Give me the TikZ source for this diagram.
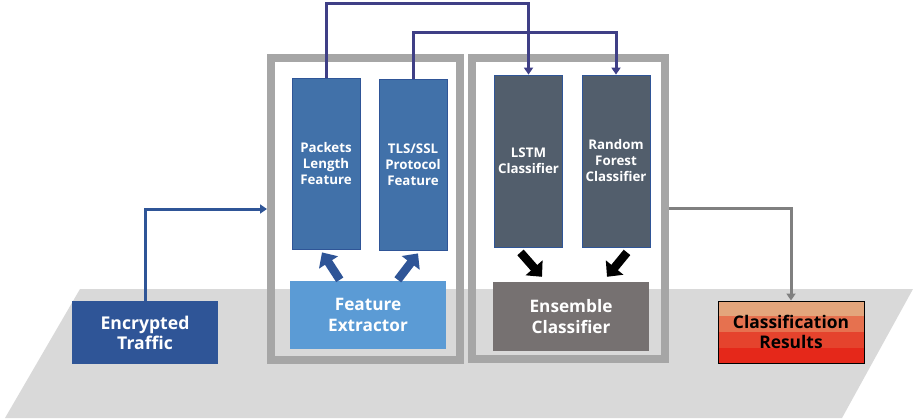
\documentclass[tikz,border=0pt]{standalone}
\usepackage{fontspec}
\setmainfont{Open Sans}
\usetikzlibrary{arrows.meta,calc}
\definecolor{navy}{HTML}{2F5597}
\definecolor{featblue}{HTML}{4171A9}
\definecolor{slate}{HTML}{525E6C}
\definecolor{lightblue}{HTML}{5B9BD5}
\definecolor{ensgrey}{HTML}{767171}
\definecolor{framegrey}{HTML}{A6A6A6}
\definecolor{floor}{HTML}{D9D9D9}
\definecolor{indigo}{HTML}{3F3F86}
\definecolor{outgrey}{HTML}{808080}
\definecolor{bandA}{HTML}{E3A57C}
\definecolor{bandB}{HTML}{E6714F}
\definecolor{bandC}{HTML}{E5432D}
\definecolor{bandD}{HTML}{E5281A}
\begin{document}
\begin{tikzpicture}[x=1pt,y=-1pt,
  txt/.style={text=white,font=\bfseries,align=center},
  tallbox/.style={txt,draw=navy,line width=0.8pt,minimum width=68pt,minimum height=171pt,
    inner sep=0pt,font=\bfseries\fontsize{13.3}{16}\selectfont},
  widebox/.style={txt,minimum width=156pt,minimum height=68pt,inner sep=0pt,
    font=\bfseries\fontsize{17.2}{21}\selectfont},
  frame/.style={draw=framegrey,line width=8pt,inner sep=0pt},
  link/.style={draw=indigo,line width=3pt,-{Triangle[width=9pt,length=7pt]}},
  fat/.style={line width=8.5pt,-{Triangle[width=22pt,length=12pt]}}
]
\useasboundingbox (0,0) rectangle (913,418);

% floor plane
\fill[floor] (80,289) -- (913,289) -- (842,418) -- (5,418) -- cycle;

% the two stage frames
\node[frame,minimum width=189pt,minimum height=302pt] (lframe) at (365.5,209) {};
\node[frame,minimum width=193pt,minimum height=301pt] (rframe) at (568.5,208.5) {};

% feature stage
\node[tallbox,fill=featblue] (pk) at (326,163.5) {Packets\\Length\\Feature};
\node[tallbox,fill=featblue] (tls) at (413,164.5) {TLS/SSL\\Protocol\\Feature};
\node[widebox,fill=lightblue] (fe) at (368,315) {Feature\\Extractor};

% classifier stage
\node[tallbox,fill=slate,minimum height=172pt] (lstm) at (528.5,161) {LSTM\\Classifier};
\node[tallbox,fill=slate,minimum height=172pt] (rf) at (616,161) {Random\\Forest\\Classifier};
\node[widebox,fill=ensgrey,minimum height=69pt] (ens) at (571,316.5) {Ensemble\\Classifier};

% input and output
\node[txt,fill=navy,minimum width=146pt,minimum height=63pt,inner sep=0pt,
  font=\bfseries\fontsize{17.6}{20}\selectfont] (enc) at (145,332.5) {Encrypted\\Traffic};
\node[draw=black,line width=1pt,minimum width=146pt,minimum height=62pt,inner sep=0pt,
  align=center,font=\bfseries\fontsize{17.4}{20}\selectfont,
  path picture={
    \fill[bandA] (path picture bounding box.north west) rectangle ++(146,15);
    \fill[bandB] ($(path picture bounding box.north west)+(0,15)$) rectangle ++(146,16);
    \fill[bandC] ($(path picture bounding box.north west)+(0,31)$) rectangle ++(146,16);
    \fill[bandD] ($(path picture bounding box.north west)+(0,47)$) rectangle ++(146,16);
  }] (cls) at (791,332) {Classification\\Results};

% connectors
\draw[draw=navy,line width=3pt,-{Triangle[width=9pt,length=7pt]}] (enc.north) |- (lframe.west);
\draw[link] (pk.north) -- ++(0,-74) -| (lstm.north);
\draw[link] (tls.north) -- ++(0,-46) -| (rf.north);
\draw[draw=outgrey,line width=3pt,-{Triangle[width=9pt,length=7pt]}] (rframe.east) -| (cls.north);

% extractor feeding the features
\draw[fat,navy] ($(fe.north west)+(50,-1)$) -- ($(pk.south)+(-4,3)$);
\draw[fat,navy] ($(fe.north west)+(108,-1)$) -- ($(tls.south)+(5,3)$);

% classifiers feeding the ensemble
\draw[fat,black] ($(lstm.south)+(-8,5)$) -- ($(ens.north)+(-29,-5)$);
\draw[fat,black] ($(rf.south)+(11,5)$) -- ($(ens.north)+(36,-5)$);
\end{tikzpicture}
\end{document}
